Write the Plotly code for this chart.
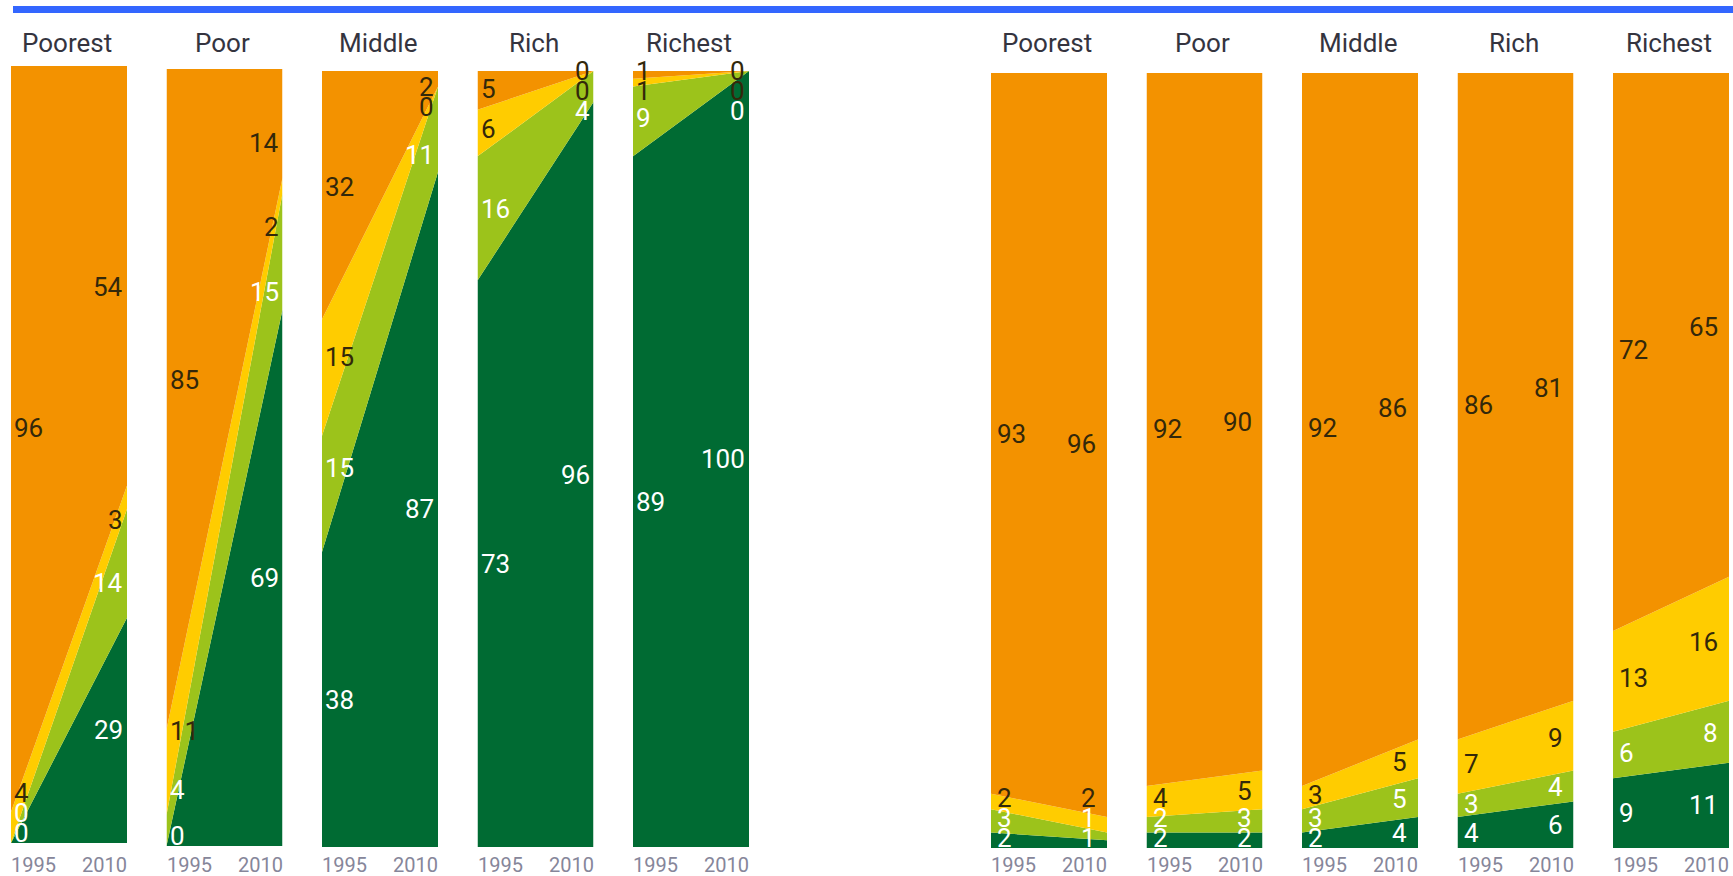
import plotly.graph_objects as go

# ---- data -------------------------------------------------------------
groups = ["Poorest", "Poor", "Middle", "Rich", "Richest"]
years = [1995, 2010]

# left panel: shares (%) per wealth group, [1995, 2010]
left_dark_green = [[0, 29], [0, 69], [38, 87], [73, 96], [89, 100]]
left_light_green = [[0, 14], [4, 15], [15, 11], [16, 4], [9, 0]]
left_yellow = [[4, 3], [11, 2], [15, 0], [6, 0], [1, 0]]
left_orange = [[96, 54], [85, 14], [32, 2], [5, 0], [1, 0]]

# right panel: shares (%) per wealth group, [1995, 2010]
right_dark_green = [[2, 1], [2, 2], [2, 4], [4, 6], [9, 11]]
right_light_green = [[3, 1], [2, 3], [3, 5], [3, 4], [6, 8]]
right_yellow = [[2, 2], [4, 5], [3, 5], [7, 9], [13, 16]]
right_orange = [[93, 96], [92, 90], [92, 86], [86, 81], [72, 65]]

# ---- styling ------------------------------------------------------------
W, H = 1733, 876
BAR_W = 116
STEP = 155.5
FONT = "Roboto, 'Open Sans', sans-serif"
DARK_GREEN = "#006B33"
LIGHT_GREEN = "#9CC31B"
YELLOW = "#FFCC00"
ORANGE = "#F39200"
DARK_TEXT = "#33280A"
LIGHT_TEXT = "#FFFFFF"
TITLE_COLOR = "#34343F"
YEAR_COLOR = "#86869A"

panels = [
    dict(layers=[left_dark_green, left_light_green, left_yellow, left_orange],
         x_start=11, tops=[66, 69, 71, 71, 71], bottoms=[843, 846, 847, 847, 847],
         pad_l=1, pad_r=2),
    dict(layers=[right_dark_green, right_light_green, right_yellow, right_orange],
         x_start=991, tops=[73] * 5, bottoms=[848] * 5,
         pad_l=4, pad_r=9),
]
layer_fill = [DARK_GREEN, LIGHT_GREEN, YELLOW, ORANGE]
layer_text = [LIGHT_TEXT, LIGHT_TEXT, DARK_TEXT, DARK_TEXT]

# upper labels sit in the middle of their band, measured a little inside the edge
INSET = 0.07


def band_mids(layers, i, j):
    """Middle of each stacked band at the label's horizontal position."""
    t = INSET if j == 0 else 1 - INSET
    mids, base = [], 0.0
    for n, layer in enumerate(layers):
        a, b = layer[i]
        v = a + (b - a) * t
        if n == 0:
            mids.append(layer[i][j] / 2.0)
        else:
            mids.append(base + v / 2.0)
        base += v
    return mids


def spread(ideals, gap, lo, hi):
    """Group colliding labels into clusters and spread each cluster evenly."""
    clusters = [[n] for n in range(len(ideals))]

    def start(c):
        s = sum(ideals[idx] - k * gap for k, idx in enumerate(c)) / len(c)
        return max(lo, min(s, hi - (len(c) - 1) * gap))

    merged = True
    while merged:
        merged = False
        for a in range(len(clusters) - 1):
            ca, cb = clusters[a], clusters[a + 1]
            if start(cb) - (start(ca) + (len(ca) - 1) * gap) < gap - 1e-9:
                clusters[a] = ca + cb
                del clusters[a + 1]
                merged = True
                break
    pos = []
    for c in clusters:
        s = start(c)
        pos += [s + k * gap for k in range(len(c))]
    return pos


fig = go.Figure()
layout_axes = {}
annotations = []

k = 0
for panel in panels:
    for i, name in enumerate(groups):
        k += 1
        xa = "x" if k == 1 else f"x{k}"
        ya = "y" if k == 1 else f"y{k}"
        x0 = panel["x_start"] + i * STEP
        x1 = x0 + BAR_W
        top, bottom = panel["tops"][i], panel["bottoms"][i]
        layout_axes["xaxis" if k == 1 else f"xaxis{k}"] = dict(
            domain=[x0 / W, x1 / W], range=[years[0], years[1]], visible=False,
            fixedrange=True, anchor=ya)
        layout_axes["yaxis" if k == 1 else f"yaxis{k}"] = dict(
            domain=[1 - bottom / H, 1 - top / H], range=[0, 100], visible=False,
            fixedrange=True, anchor=xa)

        for layer, color in zip(panel["layers"], layer_fill):
            fig.add_trace(go.Scatter(
                x=years, y=layer[i], stackgroup=f"g{k}", mode="lines",
                line=dict(width=0, color=color), fillcolor=color,
                xaxis=xa, yaxis=ya, hoverinfo="skip", showlegend=False))

        gap = 20.0 / (bottom - top) * 100
        # value labels at both edges of the band
        for j, yr in enumerate(years):
            vals = [layer[i][j] for layer in panel["layers"]]
            ys = spread(band_mids(panel["layers"], i, j), gap, 1.3, 100.0)
            for v, yv, tc in zip(vals, ys, layer_text):
                annotations.append(dict(
                    xref=xa, yref=ya, x=yr, y=yv, text=str(v), showarrow=False,
                    xanchor="left" if j == 0 else "right", yanchor="middle",
                    xshift=panel["pad_l"] if j == 0 else -panel["pad_r"],
                    height=22,
                    font=dict(family=FONT, size=26, color=tc)))
            annotations.append(dict(
                xref=xa, yref="paper", x=yr, y=1 - 865 / H, text=str(yr),
                showarrow=False, xanchor="left" if j == 0 else "right",
                yanchor="middle", xshift=-2 if j == 0 else 2, height=18,
                font=dict(family=FONT, size=20, color=YEAR_COLOR)))

        # group title
        annotations.append(dict(
            xref="paper", yref="paper", x=(x0 + BAR_W / 2) / W, y=1 - 43 / H,
            text=name, showarrow=False, xanchor="center", yanchor="middle",
            xshift=-2, font=dict(family=FONT, size=26, color=TITLE_COLOR)))

fig.update_layout(
    width=W, height=H, autosize=False,
    margin=dict(l=0, r=0, t=0, b=0, pad=0),
    paper_bgcolor="white", plot_bgcolor="white",
    annotations=annotations,
    shapes=[dict(type="rect", xref="paper", yref="paper",
                 x0=13 / W, x1=1, y0=1 - 13 / H, y1=1 - 6 / H,
                 fillcolor="#3366FF", line=dict(width=0), layer="above")],
    **layout_axes)

fig.write_html("out.html")
